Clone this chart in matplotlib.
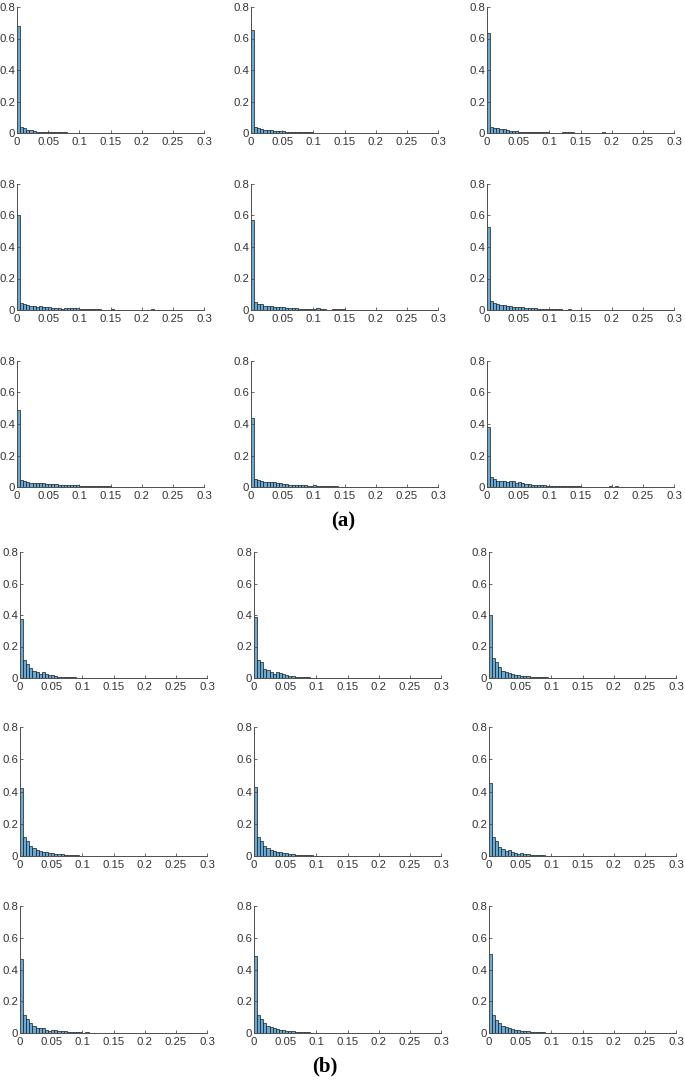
import numpy as np
import matplotlib
matplotlib.use('Agg')
import matplotlib.pyplot as plt

plt.rcParams['font.family'] = ['Liberation Sans Narrow', 'Liberation Sans', 'DejaVu Sans']

# bin width of every histogram
bin_w = 0.005

# --- group (a): normalised histograms, bins of 0.005 starting at 0 ---
a1 = [0.68, 0.036, 0.033, 0.02, 0.016, 0.015, 0.009, 0.008, 0.008, 0.007, 0.006, 0.005,
      0.007, 0.004, 0.006, 0.005, 0.003, 0.003, 0.002, 0.003, 0.002, 0.002, 0.001, 0.001,
      0.003, 0.001, 0.001, 0.001, 0.0005, 0.0005, 0.0005, 0.0005, 0.0005, 0.0005, 0.003, 0.0005]
a2 = [0.655, 0.04, 0.03, 0.026, 0.022, 0.018, 0.016, 0.012, 0.01, 0.01, 0.012, 0.006,
      0.005, 0.005, 0.005, 0.006, 0.006, 0.005, 0.004, 0.004, 0.003, 0.002, 0.002, 0.003,
      0.003, 0.003, 0.003, 0.002, 0.001, 0.003, 0.001, 0.001, 0.0005, 0.0005, 0.0005, 0.0005, 0.003]
a3 = [0.635, 0.035, 0.03, 0.032, 0.025, 0.027, 0.017, 0.015, 0.015, 0.013, 0.008, 0.006,
      0.008, 0.006, 0.006, 0.008, 0.008, 0.008, 0.008, 0.007, 0.001, 0.001, 0.001, 0.001,
      0.004, 0.006, 0.004, 0.004, 0.002, 0.001, 0.0005, 0.0005, 0.0005, 0.0005, 0.0005, 0.0005,
      0.0005, 0.004]
a4 = [0.6, 0.045, 0.04, 0.032, 0.028, 0.027, 0.022, 0.025, 0.017, 0.016, 0.016, 0.012,
      0.01, 0.011, 0.008, 0.01, 0.01, 0.012, 0.011, 0.012, 0.008, 0.006, 0.004, 0.004,
      0.004, 0.004, 0.004, 0.003, 0.003, 0.003, 0.004, 0.002, 0.001, 0.001, 0.001, 0.001,
      0.001, 0.003, 0.001, 0.001, 0.001, 0.001, 0.001, 0.004]
a5 = [0.57, 0.05, 0.037, 0.035, 0.028, 0.027, 0.024, 0.022, 0.02, 0.018, 0.016, 0.014,
      0.012, 0.01, 0.01, 0.008, 0.008, 0.007, 0.006, 0.006, 0.008, 0.01, 0.006, 0.004,
      0.002, 0.002, 0.007, 0.008, 0.004, 0.006, 0.002]
a6 = [0.53, 0.055, 0.045, 0.035, 0.032, 0.03, 0.028, 0.025, 0.022, 0.02, 0.018, 0.016,
      0.014, 0.012, 0.01, 0.01, 0.008, 0.008, 0.007, 0.006, 0.005, 0.005, 0.004, 0.004,
      0.003, 0.003, 0.004, 0.003, 0.003, 0.002, 0.002, 0.001, 0.002, 0.001, 0.003, 0.001,
      0.001, 0.001, 0.001, 0.002]
a7 = [0.487, 0.047, 0.036, 0.032, 0.028, 0.025, 0.027, 0.024, 0.024, 0.02, 0.02, 0.017,
      0.018, 0.014, 0.01, 0.01, 0.012, 0.012, 0.011, 0.01, 0.008, 0.005, 0.004, 0.004,
      0.004, 0.004, 0.004, 0.004, 0.006, 0.008, 0.002, 0.002, 0.002, 0.003, 0.001, 0.001, 0.003]
a8 = [0.44, 0.05, 0.045, 0.038, 0.033, 0.03, 0.03, 0.033, 0.027, 0.025, 0.022, 0.018,
      0.015, 0.014, 0.01, 0.012, 0.01, 0.01, 0.008, 0.009, 0.01, 0.008, 0.006, 0.007,
      0.004, 0.005, 0.006, 0.005, 0.002, 0.002, 0.003, 0.003, 0.002, 0.001, 0.001, 0.001,
      0.001, 0.003, 0.003, 0.002]
a9 = [0.38, 0.065, 0.05, 0.04, 0.035, 0.038, 0.03, 0.035, 0.035, 0.025, 0.03, 0.028,
      0.02, 0.018, 0.014, 0.014, 0.012, 0.012, 0.01, 0.008, 0.006, 0.006, 0.005, 0.006,
      0.004, 0.005, 0.006, 0.005, 0.005, 0.007, 0.003, 0.002, 0.003, 0.001, 0.002, 0.001,
      0.003, 0.003, 0.001, 0.005, 0.003, 0.004, 0.002]

# --- group (b) ---
b1 = [0.375, 0.115, 0.09, 0.065, 0.047, 0.038, 0.028, 0.035, 0.024, 0.02, 0.018, 0.01,
      0.008, 0.008, 0.007, 0.006, 0.004, 0.004, 0.003, 0.003, 0.002, 0.002]
b2 = [0.385, 0.115, 0.1, 0.06, 0.05, 0.04, 0.025, 0.035, 0.03, 0.025, 0.02, 0.012,
      0.01, 0.008, 0.007, 0.006, 0.005, 0.004, 0.003, 0.003, 0.002, 0.002]
b3 = [0.4, 0.125, 0.1, 0.07, 0.045, 0.035, 0.03, 0.025, 0.02, 0.02, 0.015, 0.012,
      0.01, 0.008, 0.007, 0.007, 0.006, 0.005, 0.004, 0.003, 0.002, 0.002]
b4 = [0.42, 0.12, 0.09, 0.065, 0.05, 0.04, 0.03, 0.027, 0.025, 0.02, 0.02, 0.015,
      0.012, 0.01, 0.008, 0.006, 0.005, 0.005, 0.004, 0.003, 0.002, 0.002]
b5 = [0.43, 0.12, 0.09, 0.065, 0.05, 0.04, 0.03, 0.025, 0.022, 0.02, 0.018, 0.012,
      0.01, 0.008, 0.007, 0.006, 0.005, 0.004, 0.004, 0.003, 0.002, 0.002]
b6 = [0.45, 0.118, 0.094, 0.056, 0.044, 0.031, 0.035, 0.022, 0.018, 0.015, 0.017, 0.012,
      0.01, 0.008, 0.007, 0.006, 0.005, 0.004, 0.003, 0.003, 0.002, 0.002, 0, 0, 0, 0, 0.003]
b7 = [0.466, 0.115, 0.088, 0.063, 0.046, 0.033, 0.029, 0.029, 0.017, 0.013, 0.019, 0.017,
      0.013, 0.01, 0.01, 0.006, 0.006, 0.004, 0.004, 0.004, 0.002, 0.004]
b8 = [0.485, 0.115, 0.09, 0.065, 0.045, 0.035, 0.03, 0.025, 0.02, 0.018, 0.015, 0.012,
      0.01, 0.008, 0.007, 0.006, 0.005, 0.004, 0.003, 0.003, 0.003, 0.003]
b9 = [0.5, 0.115, 0.085, 0.06, 0.045, 0.035, 0.03, 0.025, 0.02, 0.018, 0.015, 0.012,
      0.01, 0.008, 0.007, 0.006, 0.005, 0.004, 0.003, 0.003, 0.002, 0.002, 0.002, 0.002, 0.002]

group_a = [a1, a2, a3, a4, a5, a6, a7, a8, a9]
group_b = [b1, b2, b3, b4, b5, b6, b7, b8, b9]

x_ticks = [0, 0.05, 0.1, 0.15, 0.2, 0.25, 0.3]
x_labels = ['0', '0.05', '0.1', '0.15', '0.2', '0.25', '0.3']
y_ticks = [0, 0.2, 0.4, 0.6, 0.8]
y_labels = ['0', '0.2', '0.4', '0.6', '0.8']

W, H = 685, 1081
fig = plt.figure(figsize=(W / 100, H / 100), dpi=100)

face = (0.4 + 0.6 * 0.0, 0.4 + 0.6 * 0.447, 0.4 + 0.6 * 0.741)
axis_col = '#4d4d4d'

# panel frames in pixels: column left edges and (top, bottom) of each row
cols_a = [17, 251, 487]
cols_b = [20, 254, 489]
rows_a = [(7, 133), (184, 310), (361, 487)]
rows_b = [(552, 678), (727, 856), (906, 1033)]
panel_w = 187


def draw_panel(left, top, bottom, vals):
    ax = fig.add_axes([left / W, 1 - bottom / H, panel_w / W, (bottom - top) / H])
    edges = np.arange(len(vals)) * bin_w
    ax.bar(edges, vals, width=bin_w, align='edge', color=face,
           edgecolor='#1a1a1a', linewidth=0.5)
    ax.set_xlim(0, 0.3)
    ax.set_ylim(0, 0.8)
    ax.set_xticks(x_ticks)
    ax.set_xticklabels(x_labels)
    ax.set_yticks(y_ticks)
    ax.set_yticklabels(y_labels)
    for s in ['top', 'right']:
        ax.spines[s].set_visible(False)
    for s in ['left', 'bottom']:
        ax.spines[s].set_color(axis_col)
        ax.spines[s].set_linewidth(0.7)
    ax.tick_params(direction='in', length=2.5, width=0.6, color=axis_col,
                   labelsize=8.2, labelcolor='#333333')
    ax.tick_params(axis='y', pad=1.5)
    ax.tick_params(axis='x', pad=3)
    return ax


for i, vals in enumerate(group_a):
    r, c = divmod(i, 3)
    draw_panel(cols_a[c], rows_a[r][0], rows_a[r][1], vals)

for i, vals in enumerate(group_b):
    r, c = divmod(i, 3)
    draw_panel(cols_b[c], rows_b[r][0], rows_b[r][1], vals)

fig.text(343 / W, 1 - 521 / H, '(a)', ha='center', va='center',
         fontsize=15, fontweight='bold', family=['Liberation Serif', 'DejaVu Serif'])
fig.text(325 / W, 1 - 1066 / H, '(b)', ha='center', va='center',
         fontsize=15, fontweight='bold', family=['Liberation Serif', 'DejaVu Serif'])

fig.savefig('out.png', dpi=100)
